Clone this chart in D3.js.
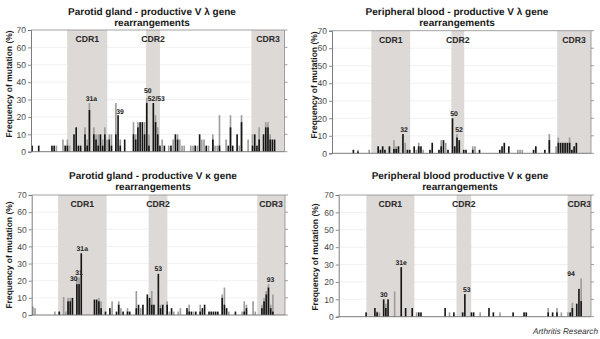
<!DOCTYPE html>
<html>
<head>
<meta charset="utf-8">
<script src="https://cdn.jsdelivr.net/npm/d3@7"></script>
<style>
  body { margin: 0; background: #fff; }
  svg { display: block; font-family: "Liberation Sans", Arial, sans-serif; text-rendering: geometricPrecision; }
</style>
</head>
<body>
<div id="chart"></div>
<script>
var width = 600, height = 339;

// codon slots along the V gene (same count for every panel)
var slotCount = 115;
var yTicks = [0, 10, 20, 30, 40, 50, 60, 70];
var cdrNames = ["CDR1", "CDR2", "CDR3"];

// [slot, replacement % (black), total % (grey on top)]
var pgLambda = [
  [0,3.5,3.5],[3,3.5,3.5],[9,3.5,3.5],[10,3.5,3.5],[11,0,3.5],[14,0,7],[15,3.5,3.5],[16,3.5,7],[17,0,3.5],
  [19,10,10],[20,14,14],[21,3.5,3.5],[22,3.5,3.5],[24,10,14],[25,3.5,7],[26,24,28],[28,10,14],[29,7,10],
  [30,3.5,10],[31,10,10],[32,3.5,7],[33,10,14],[34,0,7],[35,7,10],[36,3.5,10],[38,10,28],[39,21,21],
  [40,3.5,7],[42,7,7],[46,10,17],[47,7,10],[48,14,17],[49,17,17],[50,17,17],[51,10,17],[52,28,31],
  [53,3.5,10],[55,28,28],[56,17,21],[57,10,14],[58,3.5,3.5],[59,0,7],[60,3.5,3.5],[62,0,3.5],[63,3.5,3.5],
  [64,0,7],[65,10,10],[66,7,10],[67,0,7],[68,0,3.5],[69,0,3.5],[72,0,3.5],[73,0,3.5],[74,3.5,3.5],[75,0,3.5],
  [76,10,10],[77,0,7],[78,0,7],[79,3.5,3.5],[80,0,3.5],[82,7,10],[83,0,3.5],[84,0,3.5],[85,3.5,21],
  [88,0,7],[89,3.5,3.5],[90,14,21],[91,3.5,3.5],[93,10,10],[94,0,3.5],[95,17,21],[98,0,7],[100,3.5,10],
  [101,10,10],[102,3.5,3.5],[103,7,14],[105,10,10],[106,14,17],[107,14,17],[108,7,10],[109,7,7],[110,7,7]
];
var pbLambda = [
  [9,2,2],[11,1,2],[16,0,2],[20,4,4],[21,2,2],[22,4,4],[23,2,2],[25,4,4],[27,2.5,7.5],[28,2.5,4],
  [29,4,4],[31,11,11],[32,0,6],[33,2,2],[34,2,2],[36,4,4],[37,0,2],[38,4,6],[39,4,4],[40,0,2],[43,2,2],
  [44,6,6],[47,2,2],[48,4,7.5],[49,7.5,7.5],[50,0,6],[51,2,2],[53,20,20],[54,4,4],[55,9,11],[56,7.5,7.5],
  [58,2,2],[59,2,2],[62,2,4],[63,0,4],[65,2,2],[74,2,2],[75,4,4],[76,6,6],[78,4,4],[82,0,2],[83,0,2],
  [84,0,2],[89,2,2],[90,4,4],[94,2,2],[96,7.5,11],[99,0,4],[100,6,9],[101,6,6],[102,6,6],[103,6,6],
  [104,6,6],[105,6,9],[106,2,2],[107,4,4],[108,6,6]
];
var pgKappa = [
  [0,0,5],[1,0,4],[10,0,2],[12,2,2],[14,0,10.5],[15,0,2],[16,8,10],[17,8,10],[18,10,10],[20,18,22],
  [21,18,22],[22,36,36],[28,9,9],[29,9,9],[30,8,10],[31,4,8],[33,2,2],[35,4,4],[36,0,8],[38,2,2],
  [39,6,8],[40,0,4],[41,2,2],[43,2,4],[44,2,2],[47,4,14],[48,6,6],[49,0,4],[50,6,6],[52,12,12],
  [53,10,10],[54,6,14],[55,6,6],[57,24,24],[58,4,6],[59,6,6],[61,6,8],[62,0,2],[63,4,4],[64,0,2],
  [66,0,2],[67,0,4],[70,4,4],[71,2,6],[72,2,2],[73,0,2],[74,2,2],[76,2,6],[77,4,4],[78,6,6],[80,2,2],
  [81,2,2],[82,2,2],[83,2,2],[84,2,2],[86,10,12],[87,6,16],[88,4,4],[89,0,2],[92,2,2],[95,0,2],
  [96,2,8],[97,4,6],[100,0,8],[101,0,2],[104,4,6],[105,8,10],[106,12,14],[107,16,18],[108,4,6],[109,2,12]
];
var pbKappa = [
  [12,2.5,2.5],[16,5,5],[17,2.5,3],[18,0,2.5],[20,10,10],[21,5,7.5],[22,10,10],[25,0,14.5],[28,28.5,28.5],
  [30,5,5],[33,5,5],[35,0,2.5],[36,2.5,2.5],[37,2.5,2.5],[48,5,5],[50,0,2.5],[52,2.5,2.5],[56,2.5,2.5],
  [57,13,13],[60,2.5,2.5],[61,2.5,2.5],[64,0,2.5],[68,5,5],[70,2.5,2.5],[73,0,2.5],[79,2.5,2.5],
  [84,2.5,2.5],[85,2.5,2.5],[95,2.5,5],[97,2.5,2.5],[99,2.5,5],[101,0,2.5],[104,0,2.5],[105,2.5,2.5],
  [106,5,8],[108,7.5,7.5],[109,16,16],[110,9,22]
];

// CDR shaded regions, in slot units
var pgLambdaCdr = [[16.4, 34.6], [52.2, 58.5], [100, 115]];
var pbLambdaCdr = [[17.5, 34.7], [53, 58.7], [100, 115]];
var pgKappaCdr = [[12, 34], [53.1, 61.6], [102.4, 115]];
var pbKappaCdr = [[12.6, 34.5], [53.7, 60.4], [104.3, 115]];

// [slot, text, dx, dy]
var pgLambdaLabels = [[26, "31a", 2, 0], [39, "39", 2, 1], [52, "50", 1, -2], [55, "52/53", 3, 0]];
var pbLambdaLabels = [[31, "32", 1, 0], [53, "50", 1.5, 0], [55, "52", 2, 0]];
var pgKappaLabels = [[20, "30", -3, 6], [21, "31", 0, 0], [22, "31a", 1, 0], [57, "53", 0, 0], [107, "93", 2, 0]];
var pbKappaLabels = [[20, "30", 0, 0], [28, "31e", 0, 0], [57, "53", 2, 0], [110, "94", -10, 0]];

var panels = [
  { title: ["Parotid gland - productive  V \u03bb gene", "rearrangements"], tx: 152, ty: 14.5,
    x0: 31, x1: 284.5, yTop: 30, yBot: 151.7, lx: 9, ly: 84,
    data: pgLambda, cdr: pgLambdaCdr, labels: pgLambdaLabels },
  { title: ["Peripheral blood - productive V \u03bb gene", "rearrangements"], tx: 457, ty: 14.5,
    x0: 332, x1: 591, yTop: 30.7, yBot: 153.3, lx: 314, ly: 85,
    data: pbLambda, cdr: pbLambdaCdr, labels: pbLambdaLabels },
  { title: ["Parotid gland - productive V \u03ba gene", "rearrangements"], tx: 153, ty: 178.5,
    x0: 31.7, x1: 285, yTop: 195, yBot: 315, lx: 9, ly: 255,
    data: pgKappa, cdr: pgKappaCdr, labels: pgKappaLabels },
  { title: ["Peripheral blood productive V \u03ba gene", "rearrangements"], tx: 460, ty: 178.5,
    x0: 338.7, x1: 591, yTop: 195, yBot: 316.7, lx: 315, ly: 257,
    data: pbKappa, cdr: pbKappaCdr, labels: pbKappaLabels }
];

var svg = d3.select("#chart").append("svg")
  .attr("width", width)
  .attr("height", height);

panels.forEach(function(p) {
  var g = svg.append("g");

  var x = d3.scaleBand()
    .domain(d3.range(slotCount))
    .range([p.x0, p.x1])
    .paddingInner(0.26)
    .paddingOuter(0.13);
  var slotX = d3.scaleLinear().domain([0, slotCount]).range([p.x0, p.x1]);
  var y = d3.scaleLinear().domain([0, 70]).range([p.yBot, p.yTop]);

  // titles
  g.selectAll("text.title")
    .data(p.title)
    .enter()
    .append("text")
    .attr("class", "title")
    .attr("x", p.tx)
    .attr("y", function(d, i) { return p.ty + i * 11.5; })
    .attr("text-anchor", "middle")
    .style("font-size", "10px")
    .style("font-weight", "bold")
    .style("fill", "#1a1a1a")
    .text(function(d) { return d; });

  // faint gridlines
  g.selectAll("line.grid")
    .data(yTicks.slice(1, -1))
    .enter()
    .append("line")
    .attr("class", "grid")
    .attr("x1", p.x0).attr("x2", p.x1)
    .attr("y1", function(d) { return y(d); })
    .attr("y2", function(d) { return y(d); })
    .style("stroke", "#ededed")
    .style("stroke-width", 0.8);

  // CDR shading
  g.selectAll("rect.cdr")
    .data(p.cdr)
    .enter()
    .append("rect")
    .attr("class", "cdr")
    .attr("x", function(d) { return slotX(d[0]); })
    .attr("y", p.yTop)
    .attr("width", function(d) { return slotX(d[1]) - slotX(d[0]); })
    .attr("height", p.yBot - p.yTop)
    .style("fill", "#dcd9d6");

  g.selectAll("text.cdr")
    .data(p.cdr)
    .enter()
    .append("text")
    .attr("class", "cdr")
    .attr("x", function(d) { return (slotX(d[0]) + slotX(d[1])) / 2; })
    .attr("y", p.yTop + 12)
    .attr("text-anchor", "middle")
    .style("font-size", "8.7px")
    .style("font-weight", "bold")
    .style("fill", "#2a2a2a")
    .text(function(d, i) { return cdrNames[i]; });

  // frame: top and right
  g.append("line")
    .attr("x1", p.x0).attr("x2", p.x1)
    .attr("y1", p.yTop).attr("y2", p.yTop)
    .style("stroke", "#8a8a8a").style("stroke-width", 0.8);
  g.append("line")
    .attr("x1", p.x1).attr("x2", p.x1)
    .attr("y1", p.yTop).attr("y2", p.yBot)
    .style("stroke", "#8a8a8a").style("stroke-width", 0.8);
  g.selectAll("line.rtick")
    .data(yTicks)
    .enter()
    .append("line")
    .attr("class", "rtick")
    .attr("x1", p.x1).attr("x2", p.x1 + 3)
    .attr("y1", function(d) { return y(d); })
    .attr("y2", function(d) { return y(d); })
    .style("stroke", "#8a8a8a").style("stroke-width", 0.8);

  // bars: grey total, black replacement part
  g.selectAll("rect.tot")
    .data(p.data.filter(function(d) { return d[2] > d[1]; }))
    .enter()
    .append("rect")
    .attr("class", "tot")
    .attr("x", function(d) { return x(d[0]); })
    .attr("width", x.bandwidth())
    .attr("y", function(d) { return y(d[2]); })
    .attr("height", function(d) { return y(0) - y(d[2]); })
    .style("fill", "#9d9d9d");

  g.selectAll("rect.rep")
    .data(p.data.filter(function(d) { return d[1] > 0; }))
    .enter()
    .append("rect")
    .attr("class", "rep")
    .attr("x", function(d) { return x(d[0]); })
    .attr("width", x.bandwidth())
    .attr("y", function(d) { return y(d[1]); })
    .attr("height", function(d) { return y(0) - y(d[1]); })
    .style("fill", "#161616");

  // bar labels
  var tops = {};
  p.data.forEach(function(d) { tops[d[0]] = d[2]; });
  g.selectAll("text.lab")
    .data(p.labels)
    .enter()
    .append("text")
    .attr("class", "lab")
    .attr("x", function(d) { return x(d[0]) + x.bandwidth() / 2 + d[2]; })
    .attr("y", function(d) { return y(tops[d[0]]) - 2.5 + d[3]; })
    .attr("text-anchor", "middle")
    .style("font-size", "6.8px")
    .style("font-weight", "bold")
    .style("fill", "#222")
    .text(function(d) { return d[1]; });

  // left axis
  var yAxis = d3.axisLeft(y).tickValues(yTicks).tickSize(3).tickPadding(2);
  var ag = g.append("g")
    .attr("transform", "translate(" + p.x0 + ",0)")
    .call(yAxis);
  ag.select(".domain").style("stroke", "#6e6e6e").style("stroke-width", 0.9);
  ag.selectAll(".tick line").style("stroke", "#6e6e6e").style("stroke-width", 0.8);
  ag.selectAll(".tick text")
    .style("font-size", "8.5px")
    .style("fill", "#444")
    .style("font-family", "'Liberation Sans', Arial, sans-serif");

  // baseline
  g.append("line")
    .attr("x1", p.x0).attr("x2", p.x1)
    .attr("y1", p.yBot).attr("y2", p.yBot)
    .style("stroke", "#6e6e6e").style("stroke-width", 0.9);

  // y label
  g.append("text")
    .attr("transform", "translate(" + p.lx + "," + p.ly + ") rotate(-90)")
    .attr("text-anchor", "middle")
    .attr("dy", "0.35em")
    .style("font-size", "8.5px")
    .style("font-weight", "bold")
    .style("fill", "#1a1a1a")
    .text("Frequency of mutation (%)");
});

svg.append("text")
  .attr("x", 598)
  .attr("y", 334)
  .attr("text-anchor", "end")
  .style("font-size", "8.2px")
  .style("font-style", "italic")
  .style("fill", "#333")
  .text("Arthritis Research");
</script>
</body>
</html>
